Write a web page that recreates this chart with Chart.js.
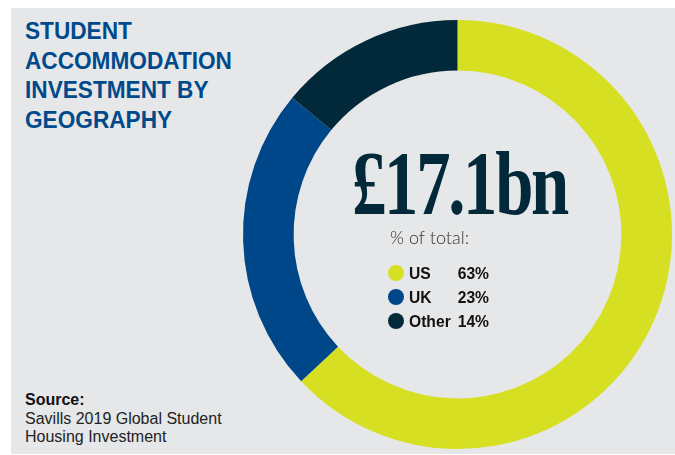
<!DOCTYPE html>
<html>
<head>
<meta charset="utf-8">
<script src="https://cdn.jsdelivr.net/npm/chart.js@4/dist/chart.umd.min.js"></script>
<style>
  html, body { margin: 0; padding: 0; background: #ffffff; }
  #wrap { position: relative; width: 675px; height: 455px; overflow: hidden; }
  #panel { position: absolute; left: 11px; top: 8px; width: 664px; height: 446px; background: #e6e7e8; }
  #title { position: absolute; left: 25px; top: 16px; font-family: "Liberation Sans", Arial, sans-serif; font-weight: bold; font-size: 24.6px; line-height: 29.7px; color: #004a8c; transform: scaleX(0.92); transform-origin: 0 0; white-space: nowrap; }
  #source { position: absolute; left: 25px; top: 391px; font-family: "Liberation Sans", Arial, sans-serif; font-size: 16px; line-height: 18.5px; color: #222; white-space: nowrap; }
  #source b { color: #111; }
  canvas { position: absolute; left: 0; top: 0; }
</style>
</head>
<body>
<div id="wrap">
  <div id="panel"></div>
  <div id="title">STUDENT<br>ACCOMMODATION<br>INVESTMENT BY<br>GEOGRAPHY</div>
  <div id="source"><b>Source:</b><br>Savills 2019 Global Student<br>Housing Investment</div>
  <canvas id="c" width="675" height="455"></canvas>
</div>
<script>
const categories = ['US', 'UK', 'Other'];
const shares = [63, 23, 14];
const totalLabel = '£17.1bn';
const subLabel = '% of total:';
const sliceColors = ['#d7df23', '#00478a', '#02293a'];

function scaledText(ctx, text, x, y, sx, align) {
  ctx.save();
  ctx.translate(x, y);
  ctx.scale(sx, 1);
  ctx.textAlign = align;
  ctx.fillText(text, 0, 0);
  ctx.restore();
}

const centerPlugin = {
  id: 'centerText',
  afterDraw(chart) {
    const ctx = chart.ctx;
    const arc = chart.getDatasetMeta(0).data[0];
    const cx = arc.x, cy = arc.y;
    const ds = chart.data.datasets[0];
    ctx.save();
    ctx.textBaseline = 'alphabetic';
    // big total, fitted to ~215px width
    ctx.fillStyle = '#02293a';
    ctx.font = 'bold 90px "Liberation Serif", serif';
    ctx.letterSpacing = '-3px';
    const w = ctx.measureText(totalLabel).width;
    const sx = 215 / w;
    ctx.save();
    ctx.translate(cx + 2, cy - 20.5);
    ctx.scale(sx, 1);
    ctx.textAlign = 'center';
    ctx.fillText(totalLabel, 0, 0);
    ctx.restore();
    ctx.letterSpacing = '0px';
    // subtitle
    ctx.fillStyle = '#333';
    ctx.font = '300 18px Lato, "Liberation Sans", sans-serif';
    ctx.textAlign = 'left';
    ctx.fillText(subLabel, cx - 67.5, cy + 9.5);
    // legend rows
    chart.data.labels.forEach((lab, i) => {
      const yDot = cy + 38.5 + i * 24;
      const yBase = cy + 44.5 + i * 24;
      ctx.beginPath();
      ctx.fillStyle = ds.backgroundColor[i];
      ctx.arc(cx - 61.5, yDot, 8, 0, Math.PI * 2);
      ctx.fill();
      ctx.fillStyle = '#111';
      ctx.font = 'bold 17px "Liberation Sans", Arial, sans-serif';
      scaledText(ctx, lab, cx - 48.5, yBase, 0.92, 'left');
      scaledText(ctx, ds.data[i] + '%', cx + 31.5, yBase, 0.92, 'right');
    });
    ctx.restore();
  }
};

new Chart(document.getElementById('c'), {
  type: 'doughnut',
  data: {
    labels: categories,
    datasets: [{
      data: shares,
      backgroundColor: sliceColors,
      borderWidth: 0,
      hoverOffset: 0
    }]
  },
  options: {
    responsive: false,
    animation: false,
    cutout: '76.4%',
    layout: { padding: { left: 243, top: 20, right: 3, bottom: 6 } },
    plugins: {
      legend: { display: false },
      tooltip: { enabled: false },
      title: { display: false }
    }
  },
  plugins: [centerPlugin]
});
</script>
</body>
</html>
